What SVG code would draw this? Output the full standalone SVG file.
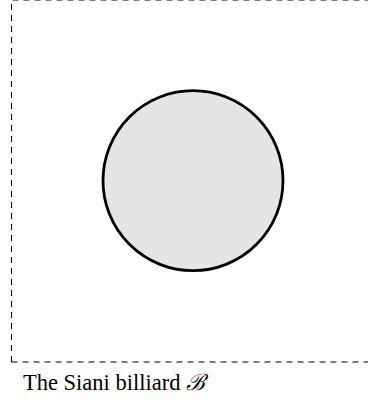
<svg xmlns="http://www.w3.org/2000/svg" width="368" height="404" viewBox="0 0 368 404">
<style>
.frame{fill:none;stroke:#000;stroke-width:1.1;stroke-dasharray:6 5}
.obst{fill:#e5e5e5;stroke:#000;stroke-width:2.8}
.cap{font-family:"Liberation Serif","DejaVu Serif",serif;font-size:22.5px;fill:#000}
</style>
<g id="connectors"></g>
<g id="table">
<path class="frame" d="M11.5,362 H373 M11.5,362 V0 H373"/>
</g>
<g id="scatterer">
<circle class="obst" cx="193" cy="180.7" r="90"/>
</g>
<g id="caption">
<text class="cap" x="23" y="390">The Siani billiard <tspan font-family="DejaVu Serif" font-style="italic">ℬ</tspan></text>
</g>
</svg>
